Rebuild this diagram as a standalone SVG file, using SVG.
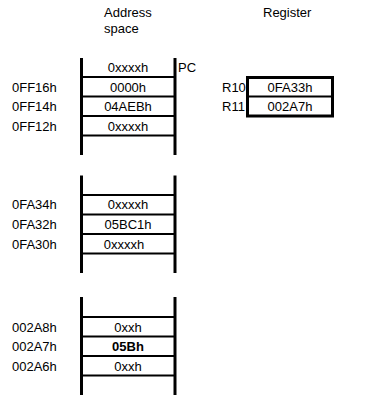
<svg xmlns="http://www.w3.org/2000/svg" width="371" height="402" viewBox="0 0 371 402">
<style>
text{font-family:"Liberation Sans",Arial,sans-serif;font-size:13px;fill:#000}
.c{text-anchor:middle}
.b{font-weight:bold}
.bar{stroke:#000;stroke-width:3;fill:none}
.ln{stroke:#000;stroke-width:2;fill:none}
</style>
<rect width="371" height="402" fill="#fff"/>
<g id="headers">
<text x="104" y="17">Address</text>
<text x="104" y="33">space</text>
<text x="263" y="17">Register</text>
</g>
<g id="mem1">
<line class="bar" x1="81.5" y1="58" x2="81.5" y2="155"/>
<line class="bar" x1="175" y1="58" x2="175" y2="155"/>
<line class="ln" x1="81" y1="77" x2="175" y2="77"/>
<line class="ln" x1="81" y1="96.5" x2="175" y2="96.5"/>
<line class="ln" x1="81" y1="116" x2="175" y2="116"/>
<line class="ln" x1="81" y1="135.5" x2="175" y2="135.5"/>
<text class="c" x="128" y="71.5">0xxxxh</text>
<text class="c" x="128" y="91.5">0000h</text>
<text class="c" x="128" y="110.5">04AEBh</text>
<text class="c" x="128" y="130.5">0xxxxh</text>
<text x="12" y="91.5">0FF16h</text>
<text x="12" y="110.5">0FF14h</text>
<text x="12" y="130.5">0FF12h</text>
<text x="178" y="71.5">PC</text>
</g>
<g id="mem2">
<line class="bar" x1="81.5" y1="175.5" x2="81.5" y2="273"/>
<line class="bar" x1="175" y1="175.5" x2="175" y2="273"/>
<line class="ln" x1="81" y1="195" x2="175" y2="195"/>
<line class="ln" x1="81" y1="214.5" x2="175" y2="214.5"/>
<line class="ln" x1="81" y1="234" x2="175" y2="234"/>
<line class="ln" x1="81" y1="253.5" x2="175" y2="253.5"/>
<text class="c" x="128" y="209">0xxxxh</text>
<text class="c" x="128" y="228.5">05BC1h</text>
<text class="c" x="124" y="248.5">0xxxxh</text>
<text x="12" y="209">0FA34h</text>
<text x="12" y="228.5">0FA32h</text>
<text x="12" y="248.5">0FA30h</text>
</g>
<g id="mem3">
<line class="bar" x1="81.5" y1="297" x2="81.5" y2="395"/>
<line class="bar" x1="175" y1="297" x2="175" y2="395"/>
<line class="ln" x1="81" y1="317" x2="175" y2="317"/>
<line class="ln" x1="81" y1="336.5" x2="175" y2="336.5"/>
<line class="ln" x1="81" y1="356" x2="175" y2="356"/>
<line class="ln" x1="81" y1="375.5" x2="175" y2="375.5"/>
<text class="c" x="128" y="331.5">0xxh</text>
<text class="c b" x="128" y="350.5">05Bh</text>
<text class="c" x="128" y="370.5">0xxh</text>
<text x="12" y="331.5">002A8h</text>
<text x="12" y="350.5">002A7h</text>
<text x="12" y="370.5">002A6h</text>
</g>
<g id="registers">
<rect x="247.5" y="77.5" width="85" height="38.5" fill="none" stroke="#000" stroke-width="3"/>
<line class="ln" x1="247" y1="96.5" x2="333" y2="96.5"/>
<text class="c" x="290" y="91.5">0FA33h</text>
<text class="c" x="290" y="110.5">002A7h</text>
<text x="222" y="91.5">R10</text>
<text x="222" y="110.5">R11</text>
</g>
</svg>
